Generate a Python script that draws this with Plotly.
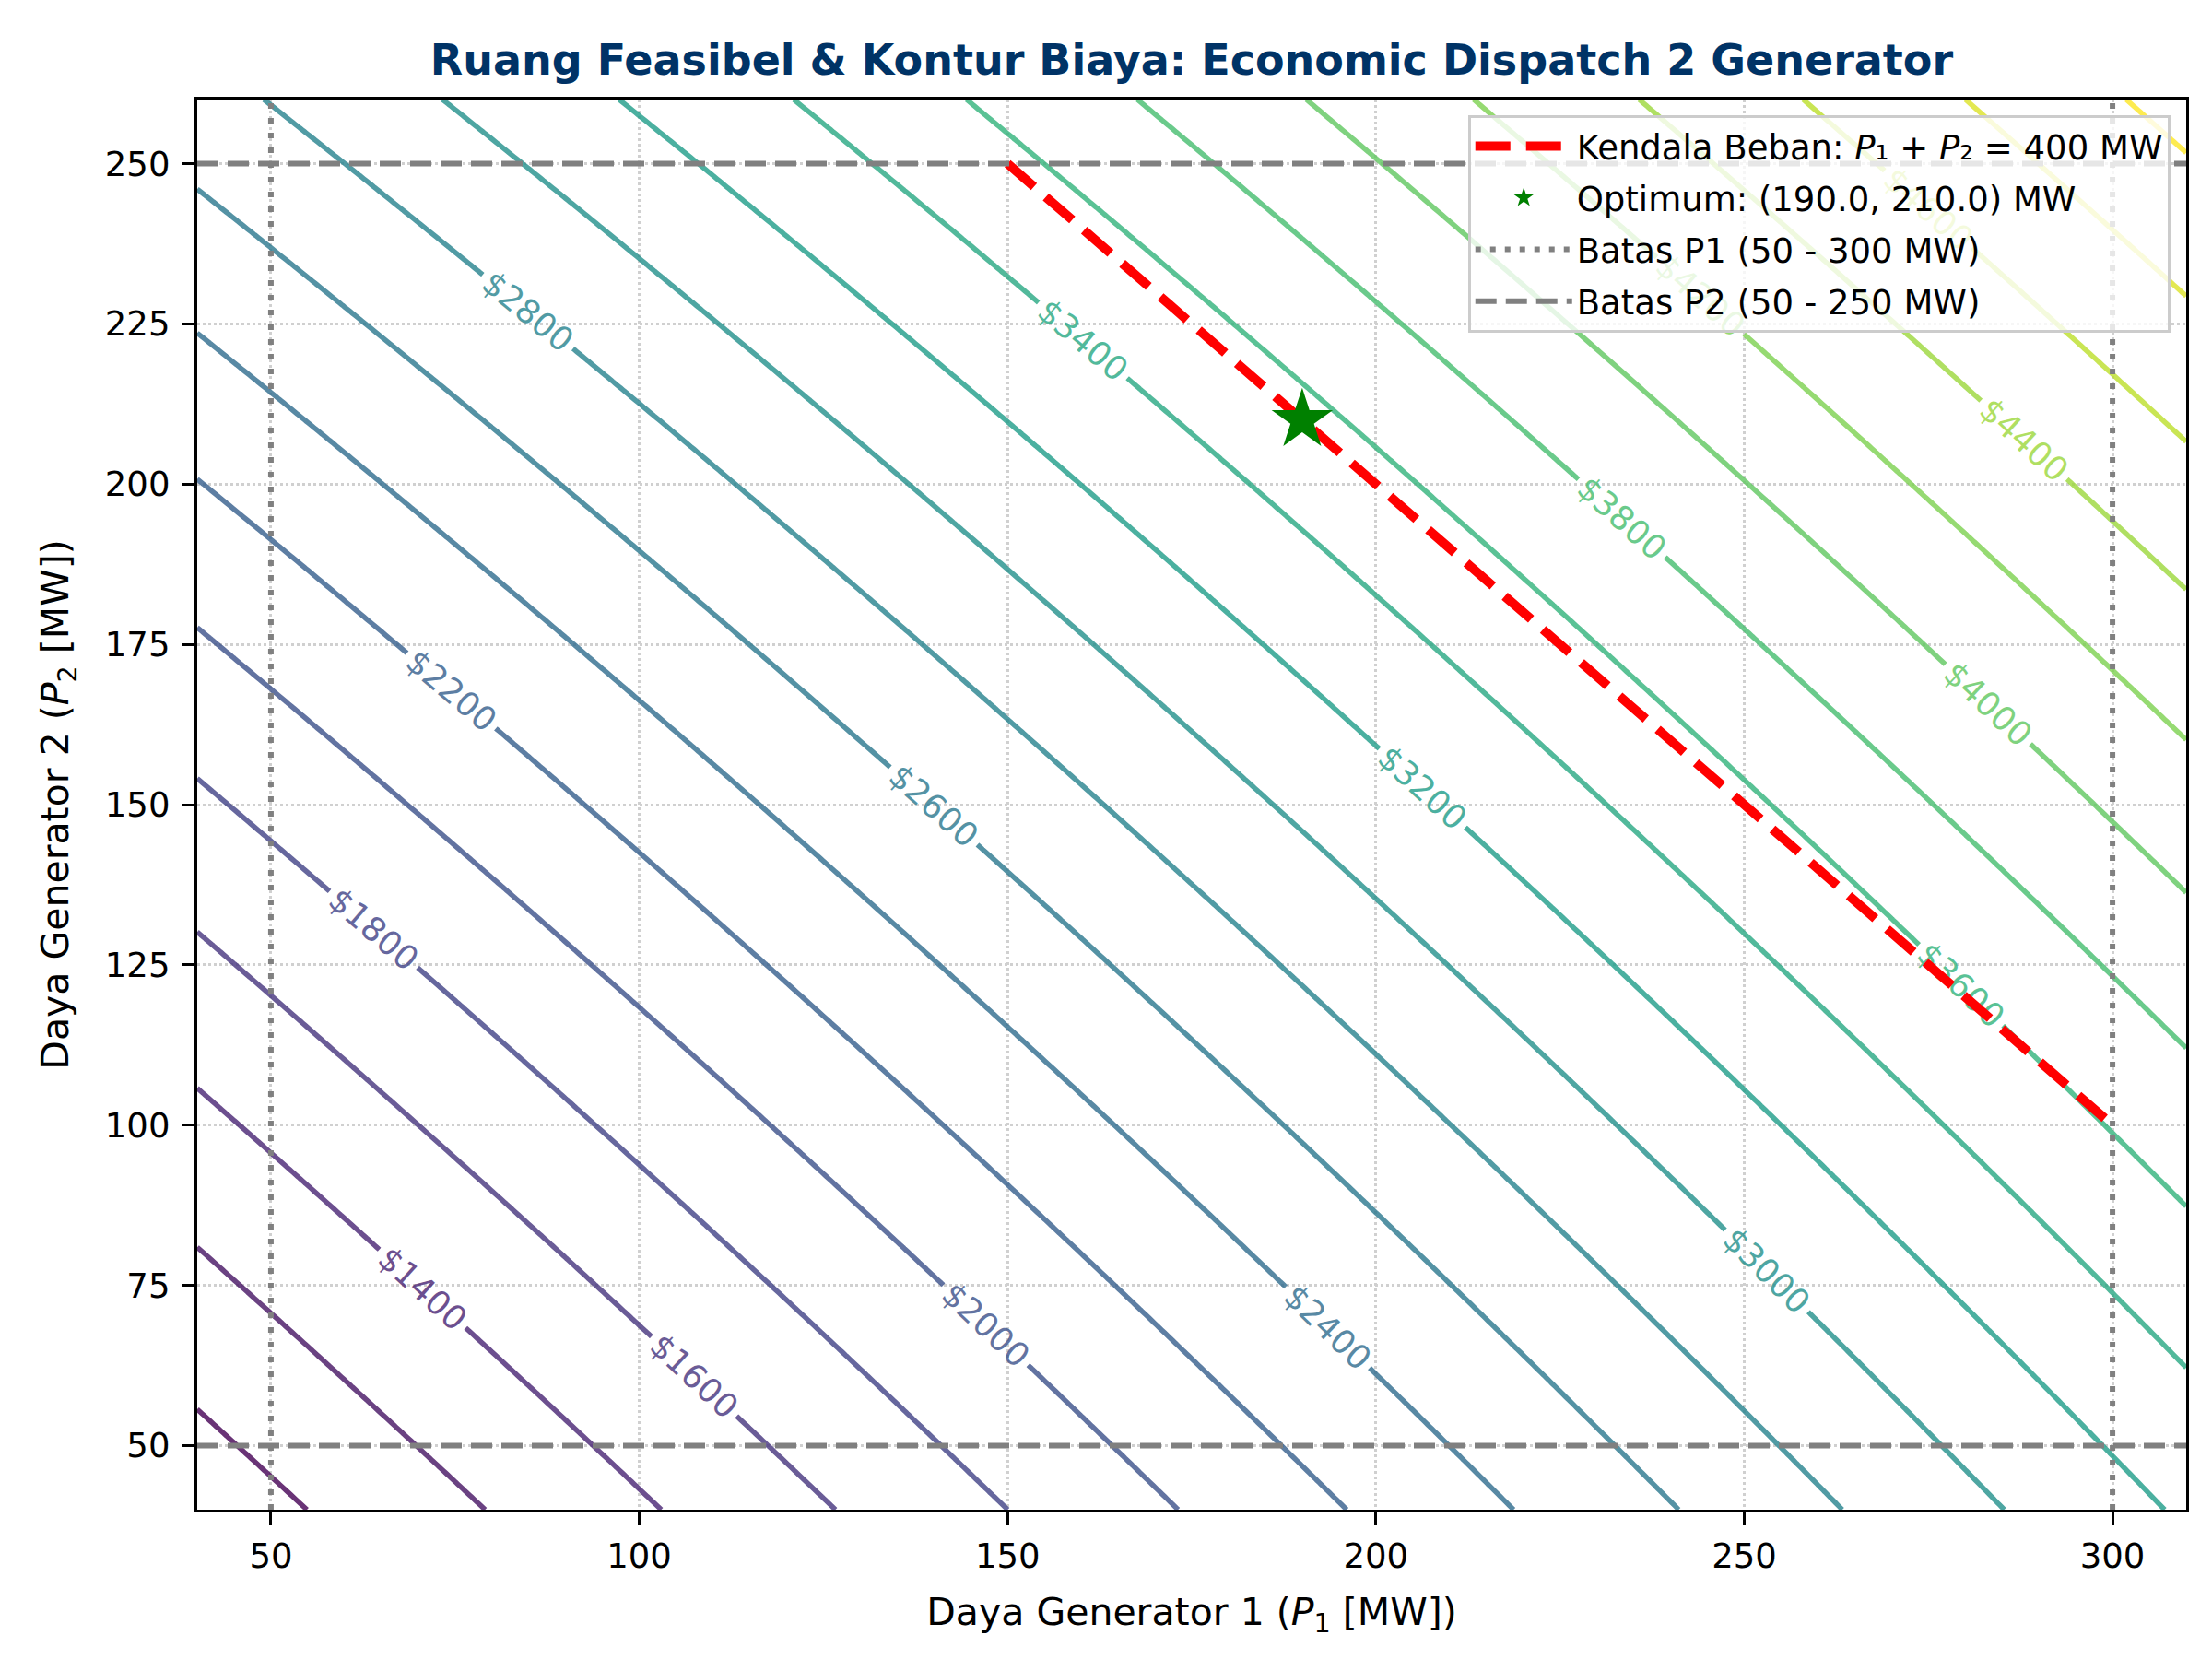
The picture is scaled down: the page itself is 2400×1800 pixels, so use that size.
import numpy as np
import plotly.graph_objects as go

# Koefisien biaya generator: C_i = a_i + b_i*P_i + c_i*P_i^2  ($/jam)
GEN_A = [150.0, 100.0]
GEN_B = [8.0, 7.5]
GEN_C = [0.002, 0.003]

P1_AXIS = [40, 310]
P2_AXIS = [40, 260]
P1_LIMITS = [50, 300]
P2_LIMITS = [50, 250]

# garis kendala beban P1 + P2 = 400 MW (di dalam batas)
LOAD_P1 = [150, 300]
LOAD_P2 = [250, 100]

OPT_P1 = [190.0]
OPT_P2 = [210.0]

LEVEL_START, LEVEL_END, LEVEL_STEP = 1000, 5000, 200
COLOR_MIN, COLOR_MAX = 800, 5200

X_TICKS = [50, 100, 150, 200, 250, 300]
Y_TICKS = [50, 75, 100, 125, 150, 175, 200, 225, 250]

FONT = "DejaVu Sans"


def total_cost(p1, p2):
    c1 = GEN_A[0] + GEN_B[0] * p1 + GEN_C[0] * p1 ** 2
    c2 = GEN_A[1] + GEN_B[1] * p2 + GEN_C[1] * p2 ** 2
    return c1 + c2


p1_grid = np.linspace(P1_AXIS[0], P1_AXIS[1], 271)
p2_grid = np.linspace(P2_AXIS[0], P2_AXIS[1], 221)
PP1, PP2 = np.meshgrid(p1_grid, p2_grid)
cost = total_cost(PP1, PP2)

fig = go.Figure()

# kontur biaya
fig.add_trace(go.Contour(
    x=p1_grid, y=p2_grid, z=cost,
    colorscale="Viridis", zmin=COLOR_MIN, zmax=COLOR_MAX, zauto=False,
    contours=dict(coloring="lines", start=LEVEL_START, end=LEVEL_END,
                  size=LEVEL_STEP, showlabels=True, labelformat="$.0f",
                  labelfont=dict(size=36, family=FONT)),
    line=dict(width=5.5),
    opacity=0.8,
    showscale=False,
    showlegend=False,
    hoverinfo="skip",
))

# kendala beban
fig.add_trace(go.Scatter(
    x=LOAD_P1, y=LOAD_P2, mode="lines",
    name="Kendala Beban: <i>P</i>\u2081 + <i>P</i>\u2082 = 400 MW",
    line=dict(color="red", width=10, dash="38px,17px"),
    legendgroup="load", legendrank=1,
))

# titik optimum
fig.add_trace(go.Scatter(
    x=OPT_P1, y=OPT_P2, mode="markers",
    name=f"Optimum: ({OPT_P1[0]:.1f}, {OPT_P2[0]:.1f}) MW",
    marker=dict(symbol="star", size=50, color="green", line=dict(width=0)),
    legendgroup="opt", legendrank=2,
))

# batas P1 (vertikal, titik-titik)
for i, v in enumerate(P1_LIMITS):
    fig.add_shape(type="line", x0=v, x1=v, xref="x", y0=0, y1=1, yref="paper",
                  line=dict(color="gray", width=6, dash="6px,10px"),
                  name="Batas P1 (50 - 300 MW)", legendgroup="p1",
                  showlegend=(i == 0), legendrank=3)

# batas P2 (horizontal, putus-putus)
for i, v in enumerate(P2_LIMITS):
    fig.add_shape(type="line", y0=v, y1=v, yref="y", x0=0, x1=1, xref="paper",
                  line=dict(color="gray", width=6, dash="23px,10px"),
                  name="Batas P2 (50 - 250 MW)", legendgroup="p2",
                  showlegend=(i == 0), legendrank=4)

axis_common = dict(
    showline=True, linecolor="black", linewidth=3.3, mirror=True,
    ticks="outside", ticklen=14, tickwidth=3.3, tickcolor="black",
    tickfont=dict(size=37, family=FONT, color="black"),
    showgrid=True, gridcolor="#d0d0d0", gridwidth=3, griddash="dot",
    zeroline=False,
)

fig.update_xaxes(range=P1_AXIS, tickvals=X_TICKS, ticklabelstandoff=1,
                 **axis_common,
                 title=dict(text="Daya Generator 1 (<i>P</i><sub>1</sub> [MW])",
                            font=dict(size=41, family=FONT, color="black"),
                            standoff=26))
fig.update_yaxes(range=P2_AXIS, tickvals=Y_TICKS, ticklabelstandoff=5,
                 **axis_common,
                 title=dict(text="Daya Generator 2 (<i>P</i><sub>2</sub> [MW])",
                            font=dict(size=41, family=FONT, color="black"),
                            standoff=27))

fig.update_layout(
    width=2400, height=1800,
    margin=dict(l=206, r=36, t=100, b=170),
    paper_bgcolor="white", plot_bgcolor="white",
    font=dict(family=FONT, color="black"),
    title=dict(text="Ruang Feasibel & Kontur Biaya: Economic Dispatch 2 Generator",
               font=dict(size=46, family=FONT, color="#003366", weight="bold"),
               x=0.5, xref="paper", xanchor="center",
               y=1 - 57 / 1800, yref="container", yanchor="middle"),
    legend=dict(x=0.992, y=0.989, xanchor="right", yanchor="top",
                bgcolor="rgba(255,255,255,0.8)", bordercolor="#cccccc",
                borderwidth=3, font=dict(size=37, family=FONT, color="black"),
                itemwidth=105, tracegroupgap=5, traceorder="grouped"),
)

fig.write_html("out.html")
